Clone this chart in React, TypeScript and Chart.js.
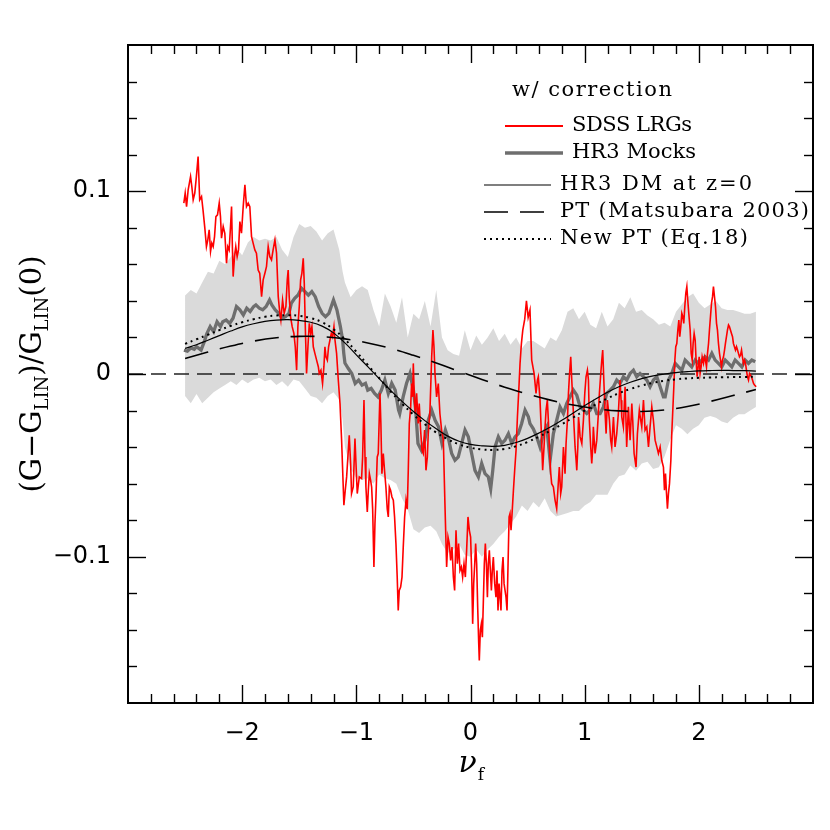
import React, { useEffect, useRef } from "react";
import { Chart, registerables } from "chart.js";

Chart.register(...registerables);

// ---------- axes ----------
const X_MIN = -3;
const X_MAX = 3;
const Y_MIN = -0.18;
const Y_MAX = 0.18;
const xMajorTicks = [-2, -1, 0, 1, 2];
const xTickLabels = ["\u22122", "\u22121", "0", "1", "2"];
const yMajorTicks = [-0.1, 0, 0.1];
const yTickLabels = ["\u22120.1", "0", "0.1"];

// ---------- HR3 mocks 1-sigma band ----------
const bandNu = [-2.5,-2.45,-2.4,-2.35,-2.3,-2.25,-2.2,-2.15,-2.1,-2.05,-2,-1.95,-1.9,-1.85,-1.8,-1.75,-1.7,-1.65,-1.6,-1.55,-1.5,-1.45,-1.4,-1.35,-1.3,-1.25,-1.2,-1.15,-1.12,-1.1,-1.05,-1,-0.95,-0.9,-0.85,-0.8,-0.75,-0.7,-0.65,-0.6,-0.55,-0.5,-0.45,-0.4,-0.35,-0.3,-0.25,-0.2,-0.15,-0.1,-0.05,0,0.05,0.1,0.15,0.2,0.25,0.3,0.35,0.4,0.45,0.5,0.55,0.6,0.65,0.7,0.75,0.8,0.85,0.9,0.95,1,1.05,1.1,1.15,1.2,1.25,1.3,1.35,1.4,1.45,1.5,1.55,1.6,1.65,1.7,1.75,1.8,1.85,1.9,1.95,2,2.05,2.1,2.15,2.2,2.25,2.3,2.35,2.4,2.45,2.5];
const bandHi = [0.043,0.046,0.044,0.05,0.056,0.055,0.062,0.06,0.064,0.069,0.065,0.072,0.075,0.073,0.074,0.073,0.075,0.068,0.064,0.075,0.082,0.08,0.081,0.078,0.073,0.077,0.079,0.068,0.056,0.05,0.042,0.046,0.048,0.046,0.035,0.026,0.044,0.037,0.028,0.042,0.02,0.033,0.03,0.04,0.026,0.046,0.02,0.013,0.011,0.01,0.024,0.013,0.021,0.016,0.02,0.025,0.018,0.022,0.016,0.02,0.014,0.018,0.018,0.016,0.014,0.02,0.018,0.024,0.034,0.036,0.03,0.034,0.027,0.025,0.034,0.026,0.03,0.039,0.036,0.042,0.034,0.035,0.032,0.03,0.027,0.028,0.026,0.034,0.038,0.042,0.044,0.039,0.036,0.038,0.04,0.036,0.035,0.035,0.034,0.033,0.033,0.034];
const bandLo = [-0.012,-0.016,-0.011,-0.016,-0.013,-0.01,-0.008,-0.006,-0.004,-0.006,-0.003,-0.005,-0.003,-0.002,-0.004,-0.003,-0.006,-0.004,-0.007,-0.003,-0.004,-0.008,-0.012,-0.013,-0.016,-0.012,-0.01,-0.014,-0.025,-0.04,-0.052,-0.057,-0.058,-0.057,-0.06,-0.055,-0.057,-0.058,-0.06,-0.068,-0.074,-0.085,-0.087,-0.084,-0.083,-0.086,-0.093,-0.098,-0.096,-0.093,-0.099,-0.1,-0.096,-0.1,-0.096,-0.093,-0.089,-0.086,-0.082,-0.078,-0.072,-0.075,-0.07,-0.073,-0.068,-0.075,-0.078,-0.077,-0.076,-0.075,-0.075,-0.072,-0.07,-0.066,-0.066,-0.066,-0.06,-0.056,-0.055,-0.05,-0.053,-0.049,-0.048,-0.052,-0.051,-0.045,-0.036,-0.028,-0.03,-0.033,-0.03,-0.028,-0.024,-0.023,-0.024,-0.026,-0.027,-0.024,-0.022,-0.022,-0.02,-0.018];

// ---------- HR3 mocks mean ----------
const mockNu = [-2.51,-2.48,-2.45,-2.42,-2.4,-2.36,-2.33,-2.31,-2.28,-2.25,-2.22,-2.19,-2.17,-2.14,-2.11,-2.08,-2.05,-2.02,-1.99,-1.96,-1.93,-1.9,-1.88,-1.85,-1.82,-1.79,-1.76,-1.74,-1.71,-1.68,-1.65,-1.62,-1.59,-1.57,-1.54,-1.51,-1.48,-1.45,-1.42,-1.39,-1.36,-1.33,-1.3,-1.27,-1.24,-1.21,-1.2,-1.17,-1.14,-1.12,-1.11,-1.1,-1.07,-1.04,-1.01,-0.98,-0.95,-0.92,-0.9,-0.87,-0.84,-0.81,-0.78,-0.75,-0.72,-0.69,-0.66,-0.63,-0.62,-0.59,-0.56,-0.53,-0.5,-0.48,-0.46,-0.43,-0.4,-0.37,-0.34,-0.31,-0.28,-0.25,-0.22,-0.19,-0.165,-0.136,-0.107,-0.077,-0.048,-0.019,0.01,0.039,0.069,0.098,0.127,0.156,0.177,0.195,0.215,0.244,0.273,0.302,0.332,0.361,0.39,0.419,0.448,0.478,0.507,0.521,0.55,0.58,0.609,0.638,0.668,0.697,0.726,0.755,0.784,0.814,0.843,0.872,0.901,0.931,0.96,0.989,1.018,1.047,1.076,1.106,1.135,1.164,1.193,1.223,1.252,1.281,1.31,1.339,1.368,1.398,1.427,1.456,1.485,1.515,1.544,1.573,1.602,1.632,1.661,1.69,1.705,1.734,1.763,1.793,1.822,1.851,1.88,1.909,1.938,1.968,1.997,2.026,2.055,2.085,2.114,2.143,2.172,2.201,2.231,2.26,2.289,2.318,2.347,2.377,2.406,2.435,2.464,2.494];
const mockMean = [0.013,0.0125,0.0142,0.0135,0.015,0.0131,0.018,0.022,0.026,0.0232,0.0286,0.026,0.0286,0.0295,0.0277,0.0305,0.0369,0.0351,0.0323,0.036,0.0342,0.0369,0.0378,0.036,0.0351,0.0369,0.0405,0.0378,0.0351,0.0332,0.0305,0.0314,0.0332,0.0387,0.0414,0.0432,0.0469,0.0451,0.0432,0.0451,0.0423,0.0369,0.0332,0.0314,0.0332,0.0387,0.0405,0.0351,0.026,0.0186,0.0113,0.006,0.003,0.0003,-0.0052,-0.0033,-0.0061,-0.0051,-0.0088,-0.0079,-0.0106,-0.0125,-0.0088,-0.0033,-0.0106,-0.0051,-0.0088,-0.0198,-0.0216,-0.0125,-0.0051,0.0003,-0.0088,-0.0198,-0.038,-0.0417,-0.0362,-0.0253,-0.0198,-0.0253,-0.0289,-0.038,-0.0307,-0.0362,-0.0435,-0.0472,-0.0454,-0.038,-0.0307,-0.0344,-0.0435,-0.0527,-0.0563,-0.049,-0.0545,-0.0563,-0.0627,-0.0527,-0.0399,-0.0344,-0.038,-0.0362,-0.0326,-0.038,-0.0344,-0.0326,-0.0271,-0.0198,-0.0234,-0.0271,-0.03,-0.0344,-0.0399,-0.0326,-0.0289,-0.0472,-0.0326,-0.0253,-0.018,-0.0216,-0.0161,-0.0125,-0.0088,-0.0116,-0.018,-0.0198,-0.0216,-0.0198,-0.0161,-0.0216,-0.0216,-0.018,-0.0106,-0.0088,-0.007,-0.0033,-0.0052,-0.0015,-0.0033,0.0003,0.0021,-0.0015,0.0003,-0.0015,-0.0033,-0.007,-0.0033,-0.0015,-0.007,-0.0125,-0.0125,-0.0033,0.0003,0.0058,0.0039,0.0021,0.0076,0.0058,0.0039,0.0076,0.0058,0.0076,0.0094,0.0076,0.0113,0.0076,0.0058,0.0039,0.0076,0.0058,0.0039,0.0076,0.0058,0.0039,0.0076,0.0058,0.0076,0.0067];

// ---------- SDSS LRGs ----------
const sdssNu = [-2.511,-2.499,-2.487,-2.473,-2.452,-2.441,-2.429,-2.415,-2.401,-2.386,-2.372,-2.356,-2.343,-2.327,-2.313,-2.301,-2.289,-2.277,-2.266,-2.254,-2.242,-2.23,-2.216,-2.201,-2.19,-2.181,-2.166,-2.152,-2.137,-2.126,-2.114,-2.102,-2.093,-2.085,-2.079,-2.067,-2.056,-2.044,-2.032,-2.02,-2.006,-1.991,-1.976,-1.962,-1.947,-1.933,-1.918,-1.904,-1.889,-1.875,-1.86,-1.846,-1.83,-1.816,-1.801,-1.787,-1.772,-1.758,-1.743,-1.729,-1.713,-1.699,-1.684,-1.67,-1.661,-1.646,-1.632,-1.617,-1.605,-1.597,-1.588,-1.576,-1.562,-1.547,-1.535,-1.523,-1.512,-1.5,-1.488,-1.477,-1.465,-1.456,-1.447,-1.436,-1.424,-1.412,-1.4,-1.389,-1.377,-1.363,-1.348,-1.333,-1.325,-1.31,-1.296,-1.284,-1.275,-1.266,-1.254,-1.243,-1.231,-1.219,-1.208,-1.196,-1.187,-1.173,-1.158,-1.143,-1.129,-1.109,-1.097,-1.085,-1.074,-1.062,-1.05,-1.042,-1.027,-1.012,-1.003,-0.992,-0.974,-0.954,-0.945,-0.933,-0.924,-0.916,-0.904,-0.895,-0.886,-0.875,-0.866,-0.857,-0.846,-0.837,-0.828,-0.817,-0.808,-0.793,-0.785,-0.776,-0.764,-0.753,-0.741,-0.729,-0.72,-0.711,-0.7,-0.688,-0.676,-0.665,-0.653,-0.642,-0.633,-0.624,-0.612,-0.6,-0.589,-0.577,-0.565,-0.554,-0.545,-0.536,-0.524,-0.516,-0.507,-0.501,-0.492,-0.484,-0.472,-0.458,-0.449,-0.437,-0.425,-0.414,-0.402,-0.39,-0.378,-0.37,-0.355,-0.34,-0.329,-0.32,-0.311,-0.297,-0.282,-0.268,-0.253,-0.238,-0.224,-0.209,-0.197,-0.186,-0.174,-0.162,-0.15,-0.139,-0.127,-0.115,-0.104,-0.092,-0.08,-0.069,-0.057,-0.045,-0.034,-0.022,-0.01,0.001,0.01,0.019,0.028,0.037,0.045,0.054,0.063,0.072,0.077,0.086,0.095,0.104,0.112,0.121,0.13,0.139,0.148,0.156,0.165,0.174,0.183,0.191,0.2,0.212,0.223,0.232,0.241,0.25,0.259,0.267,0.276,0.285,0.294,0.302,0.311,0.32,0.329,0.338,0.346,0.355,0.364,0.376,0.387,0.399,0.411,0.423,0.434,0.446,0.458,0.475,0.49,0.505,0.521,0.536,0.557,0.574,0.586,0.594,0.609,0.621,0.632,0.644,0.653,0.662,0.673,0.682,0.691,0.703,0.711,0.726,0.741,0.755,0.767,0.778,0.79,0.799,0.814,0.828,0.837,0.849,0.858,0.866,0.878,0.887,0.896,0.907,0.916,0.925,0.931,0.94,0.946,0.954,0.96,0.975,0.989,1.001,1.012,1.024,1.033,1.041,1.053,1.062,1.071,1.076,1.091,1.106,1.12,1.129,1.141,1.15,1.158,1.17,1.179,1.188,1.199,1.208,1.217,1.228,1.237,1.252,1.266,1.281,1.295,1.31,1.319,1.325,1.339,1.354,1.368,1.383,1.398,1.413,1.421,1.433,1.45,1.462,1.479,1.491,1.5,1.515,1.529,1.544,1.559,1.573,1.588,1.602,1.617,1.632,1.646,1.661,1.675,1.69,1.699,1.708,1.717,1.725,1.734,1.743,1.755,1.763,1.772,1.781,1.79,1.798,1.807,1.816,1.825,1.833,1.842,1.851,1.86,1.868,1.877,1.886,1.895,1.903,1.912,1.924,1.933,1.942,1.95,1.959,1.968,1.976,1.985,1.994,2.003,2.011,2.02,2.029,2.041,2.05,2.058,2.067,2.076,2.085,2.093,2.102,2.111,2.12,2.128,2.137,2.146,2.155,2.163,2.172,2.181,2.19,2.198,2.207,2.216,2.225,2.233,2.242,2.251,2.26,2.268,2.277,2.286,2.295,2.303,2.312,2.321,2.33,2.339,2.347,2.356,2.365,2.374,2.382,2.391,2.4,2.409,2.417,2.426,2.435,2.444,2.453,2.461,2.47,2.479,2.488,2.502];
const sdssVal = [0.0935,0.099,0.0916,0.1008,0.108,0.1026,0.0953,0.099,0.108,0.119,0.0953,0.0971,0.0898,0.0798,0.0697,0.0734,0.0789,0.067,0.0716,0.0697,0.0752,0.0861,0.0871,0.0935,0.0861,0.0743,0.0807,0.077,0.0606,0.0697,0.0679,0.0807,0.0916,0.0679,0.0533,0.0642,0.0697,0.0642,0.0679,0.0834,0.077,0.0916,0.1035,0.0916,0.0935,0.0916,0.0752,0.0716,0.0679,0.0661,0.0569,0.0551,0.0423,0.0515,0.0551,0.0587,0.0697,0.0642,0.0624,0.0679,0.0734,0.0661,0.0423,0.0332,0.0295,0.0405,0.0332,0.0368,0.0515,0.0569,0.0423,0.0313,0.0259,0.0222,0.0149,0.0021,0.0259,0.0368,0.0515,0.0551,0.0633,0.0496,0.0259,0.0003,0.0149,0.0277,0.0222,0.0259,0.0149,0.0113,0.0076,0.004,0.0003,0.0021,-0.0052,0.004,0.0149,0.0094,0.0076,0.0149,0.0186,0.0222,0.0204,0.0259,0.0186,0.0113,-0.0033,-0.0161,-0.0362,-0.0718,-0.0636,-0.0563,-0.0454,-0.0335,-0.049,-0.0654,-0.0618,-0.0353,-0.049,-0.0654,-0.0563,-0.0572,-0.0454,-0.0143,-0.0454,-0.0618,-0.0755,-0.0636,-0.0545,-0.0581,-0.0618,-0.074,-0.1056,-0.0819,-0.0673,-0.0454,-0.0435,-0.0106,-0.0271,-0.0545,-0.0435,-0.0527,-0.0618,-0.074,-0.0782,-0.0618,-0.0636,-0.0673,-0.0691,-0.0782,-0.0928,-0.1111,-0.1294,-0.1184,-0.1166,-0.1111,-0.0947,-0.0782,-0.0691,-0.074,-0.0527,-0.0271,-0.018,-0.0052,-0.0125,0.0058,-0.0125,-0.0216,-0.0106,-0.0271,-0.0161,-0.0307,-0.0417,-0.0435,-0.0307,-0.0527,-0.0454,-0.0326,-0.0198,0.0094,0.024,0.0149,0.0003,-0.0125,-0.0052,-0.0216,-0.0307,-0.0362,-0.0709,-0.1056,-0.0892,-0.0928,-0.102,-0.0947,-0.1111,-0.1184,-0.0855,-0.1038,-0.0928,-0.1075,-0.1056,-0.1111,-0.1038,-0.1111,-0.0965,-0.0782,-0.0855,-0.0892,-0.1075,-0.1367,-0.1147,-0.1038,-0.0928,-0.1038,-0.1276,-0.1475,-0.1568,-0.1403,-0.1367,-0.144,-0.1257,-0.1038,-0.0928,-0.1038,-0.1221,-0.1038,-0.0965,-0.1075,-0.1184,-0.1075,-0.1002,-0.1147,-0.1221,-0.1075,-0.1294,-0.1147,-0.1221,-0.1294,-0.1075,-0.1002,-0.1147,-0.1147,-0.1221,-0.1294,-0.1038,-0.0782,-0.0764,-0.0855,-0.0764,-0.0636,-0.0527,-0.0417,-0.0234,-0.0088,0.0058,0.0168,0.024,0.03,0.04,0.031,0.035,0.0076,0.0003,-0.0106,-0.0033,-0.0015,-0.0143,-0.0326,-0.0527,-0.0399,-0.0289,-0.0198,-0.0143,-0.0253,-0.0399,-0.0545,-0.06,-0.0618,-0.0691,-0.0737,-0.0618,-0.0509,-0.0654,-0.0618,-0.0399,-0.0545,-0.038,-0.0253,-0.0106,-0.0015,0.0094,-0.0033,-0.0143,-0.0289,-0.0399,-0.0472,-0.0527,-0.0399,-0.0235,-0.0289,-0.0344,-0.038,-0.0253,-0.0106,-0.0015,0.0021,-0.0033,-0.0253,-0.0399,-0.049,-0.0399,-0.0289,-0.0435,-0.0362,-0.0216,-0.0106,0.0003,0.0076,0.0131,-0.007,-0.0216,-0.0326,-0.0143,-0.0198,-0.0253,-0.0362,-0.0399,-0.0235,-0.0399,-0.0326,-0.0216,-0.0033,-0.0143,-0.0235,-0.0289,-0.007,-0.0399,-0.018,-0.0362,-0.0161,-0.0253,-0.0435,-0.0509,-0.0326,-0.0198,-0.0253,-0.0289,-0.0143,-0.0307,-0.0289,-0.0399,-0.0289,-0.018,-0.0253,-0.0362,-0.0399,-0.0435,-0.0399,-0.0472,-0.0509,-0.0636,-0.0545,-0.0654,-0.0737,-0.0654,-0.06,-0.0472,-0.0326,-0.0198,-0.007,0.0076,0.0149,0.0167,0.0241,0.0295,0.0204,0.0259,0.0332,0.0314,0.0277,0.0368,0.0442,0.0478,0.0405,0.0332,0.0241,0.0113,0.0076,0.0167,0.0222,0.0186,0.0076,-0.0015,0.0039,0.0094,0.0003,0.0039,0.0094,0.0058,0.0094,0.0076,0.0039,0.0113,0.0167,0.0241,0.0314,0.0387,0.0423,0.0478,0.0423,0.0368,0.0277,0.0241,0.0167,0.0113,0.0076,0.0039,0.0076,0.0094,0.0131,0.0167,0.0204,0.0241,0.0268,0.0259,0.0241,0.0222,0.0204,0.0167,0.0149,0.0131,0.0149,0.0131,0.0113,0.0094,0.0103,0.0131,0.0094,0.0058,0.0076,0.0058,0.0021,-0.0015,-0.0033,0.0003,-0.0006,-0.0015,-0.0033,-0.0052,-0.006,-0.007];

// ---------- HR3 DM at z=0 and New PT (Eq.18) ----------
const curveNu = [-2.5,-2.4,-2.3,-2.2,-2.1,-2,-1.9,-1.8,-1.7,-1.6,-1.5,-1.4,-1.3,-1.2,-1.1,-1,-0.9,-0.8,-0.7,-0.6,-0.5,-0.4,-0.3,-0.2,-0.1,0,0.1,0.2,0.3,0.4,0.5,0.6,0.7,0.8,0.9,1,1.1,1.2,1.3,1.4,1.5,1.6,1.7,1.8,1.9,2,2.1,2.2,2.3,2.4,2.5];
const dmVal = [0.014,0.016,0.0185,0.021,0.0235,0.0258,0.0275,0.0288,0.0295,0.0297,0.0293,0.0283,0.0262,0.0225,0.017,0.0105,0.004,-0.0025,-0.009,-0.015,-0.0205,-0.0255,-0.03,-0.034,-0.0368,-0.0385,-0.0393,-0.0396,-0.039,-0.0375,-0.0352,-0.0323,-0.029,-0.0253,-0.0213,-0.0173,-0.0135,-0.01,-0.007,-0.0045,-0.0025,-0.001,0,0.0008,0.0013,0.0017,0.0019,0.002,0.0019,0.0018,0.0016];
const newPtVal = [0.0165,0.019,0.0215,0.024,0.0263,0.0283,0.03,0.0313,0.032,0.0322,0.0318,0.0306,0.0283,0.0245,0.019,0.0122,0.005,-0.0022,-0.0095,-0.0162,-0.0222,-0.0275,-0.032,-0.0357,-0.0385,-0.0403,-0.0413,-0.0415,-0.041,-0.0395,-0.0372,-0.0343,-0.031,-0.0275,-0.0238,-0.02,-0.0165,-0.0133,-0.0105,-0.0082,-0.0063,-0.0048,-0.0037,-0.0029,-0.0024,-0.0021,-0.0019,-0.0018,-0.0017,-0.0016,-0.0015];

// ---------- PT (Matsubara 2003) ----------
const ptNu = [-2.5,-2.3,-2.1,-1.9,-1.7,-1.5,-1.3,-1.1,-0.9,-0.7,-0.5,-0.3,-0.1,0.1,0.3,0.5,0.7,0.9,1.1,1.3,1.5,1.7,1.9,2.1,2.3,2.5];
const ptVal = [0.0085,0.012,0.0153,0.018,0.0198,0.0206,0.0204,0.0192,0.017,0.014,0.0102,0.006,0.0015,-0.003,-0.0072,-0.011,-0.0143,-0.017,-0.019,-0.0202,-0.0205,-0.0197,-0.0178,-0.015,-0.0118,-0.0085];

// ---------- zero reference ----------
const zeroNu = [X_MIN, X_MAX];
const zeroVal = [0, 0];

// ---------- legend ----------
const legendTitle = "w/ correction";
const legendLabels = ["SDSS LRGs", "HR3 Mocks", "HR3 DM at z=0", "PT (Matsubara 2003)", "New PT (Eq.18)"];

const pts = (xs: number[], ys: number[]) => xs.map((x, i) => ({ x, y: ys[i] }));

const RED = "#ff0000";
const GREY = "#6e6e6e";
const BAND = "#dadada";
const SERIF = '"DejaVu Serif", serif';
const SANS = '"DejaVu Sans", sans-serif';

const styles = [
  { color: RED, width: 2, dash: [] as number[] },
  { color: GREY, width: 3.5, dash: [] as number[] },
  { color: "#000", width: 1.2, dash: [] as number[] },
  { color: "#000", width: 1.6, dash: [24, 12] },
  { color: "#000", width: 2, dash: [2, 4] },
];

// draw text spread so that it ends at a given x
function spreadText(ctx: any, text: string, x: number, y: number, endX: number) {
  ctx.letterSpacing = "0px";
  const w = ctx.measureText(text).width;
  const n = text.length;
  const ls = n > 1 ? (endX - x - w) / (n - 1) : 0;
  if ("letterSpacing" in ctx) {
    ctx.letterSpacing = `${ls}px`;
    ctx.fillText(text, x, y);
    ctx.letterSpacing = "0px";
  } else {
    ctx.save();
    ctx.translate(x, y);
    ctx.scale((endX - x) / w, 1);
    ctx.fillText(text, 0, 0);
    ctx.restore();
  }
}

const decor = {
  id: "decor",
  afterDraw(chart: any) {
    const { ctx, chartArea: a, scales } = chart;
    const xs = scales.x;
    const ys = scales.y;
    ctx.save();
    const seg = (x1: number, y1: number, x2: number, y2: number) => {
      ctx.beginPath();
      ctx.moveTo(x1, y1);
      ctx.lineTo(x2, y2);
      ctx.stroke();
    };
    ctx.strokeStyle = "#000";
    ctx.setLineDash([]);
    ctx.lineWidth = 1.4;
    for (let i = -14; i <= 14; i++) {
      const px = Math.round(xs.getPixelForValue(i * 0.2)) + 0.5;
      const len = i % 5 === 0 ? 18 : 9;
      seg(px, a.bottom, px, a.bottom - len);
      seg(px, a.top, px, a.top + len);
    }
    for (let i = -8; i <= 8; i++) {
      const py = Math.round(ys.getPixelForValue(i * 0.02)) + 0.5;
      const len = i % 5 === 0 ? 18 : 9;
      seg(a.left, py, a.left + len, py);
      seg(a.right, py, a.right - len, py);
    }
    ctx.lineWidth = 2;
    ctx.strokeRect(a.left, a.top, a.right - a.left, a.bottom - a.top);

    // tick labels
    ctx.fillStyle = "#000";
    ctx.font = `24px ${SANS}`;
    ctx.textAlign = "center";
    ctx.textBaseline = "middle";
    xMajorTicks.forEach((v, i) => ctx.fillText(xTickLabels[i], xs.getPixelForValue(v), a.bottom + 31));
    ctx.textAlign = "right";
    yMajorTicks.forEach((v, i) => ctx.fillText(yTickLabels[i], a.left - 17, ys.getPixelForValue(v)));

    // x title: nu_f
    const cx = (a.left + a.right) / 2;
    ctx.textBaseline = "alphabetic";
    ctx.textAlign = "left";
    ctx.font = `italic 30px ${SERIF}`;
    const wNu = ctx.measureText("\u03bd").width;
    ctx.fillText("\u03bd", cx - 12, a.bottom + 69);
    ctx.font = `17px ${SERIF}`;
    ctx.fillText("f", cx - 12 + wNu + 1, a.bottom + 77);

    // y title
    const parts = [
      { t: "(G\u2212G", s: false },
      { t: "LIN", s: true },
      { t: ")/G", s: false },
      { t: "LIN", s: true },
      { t: "(0)", s: false },
    ];
    const big = `29px ${SERIF}`;
    const small = `18px ${SERIF}`;
    let total = 0;
    parts.forEach((p) => {
      ctx.font = p.s ? small : big;
      total += ctx.measureText(p.t).width;
    });
    ctx.translate(31, (a.top + a.bottom) / 2);
    ctx.rotate(-Math.PI / 2);
    let pos = -total / 2;
    parts.forEach((p) => {
      ctx.font = p.s ? small : big;
      ctx.fillText(p.t, pos, p.s ? 17 : 10);
      pos += ctx.measureText(p.t).width;
    });
    ctx.restore();

    // legend
    ctx.save();
    ctx.fillStyle = "#000";
    ctx.font = `21px ${SERIF}`;
    ctx.textBaseline = "middle";
    ctx.textAlign = "left";
    spreadText(ctx, legendTitle, 512, 91, 672);
    const rows = [
      { y: 126, x1: 505, x2: 563, tx: 572, end: 692 },
      { y: 153, x1: 505, x2: 563, tx: 572, end: 696 },
      { y: 185, x1: 484, x2: 551, tx: 560, end: 752 },
      { y: 212, x1: 484, x2: 551, tx: 560, end: 809 },
      { y: 239, x1: 484, x2: 551, tx: 560, end: 748 },
    ];
    rows.forEach((r, i) => {
      const st = styles[i];
      ctx.strokeStyle = st.color;
      ctx.lineWidth = st.width;
      ctx.setLineDash(st.dash);
      seg(r.x1, r.y, r.x2, r.y);
      ctx.setLineDash([]);
      spreadText(ctx, legendLabels[i], r.tx, r.y, r.end);
    });
    ctx.restore();
  },
};

export default function App() {
  const ref = useRef<HTMLCanvasElement | null>(null);
  useEffect(() => {
    if (!ref.current) return;
    const chart = new Chart(ref.current, {
      type: "line",
      data: {
        datasets: [
          { label: "band hi", data: pts(bandNu, bandHi), borderWidth: 0, borderColor: "rgba(0,0,0,0)", backgroundColor: BAND, fill: "+1", order: 10 },
          { label: "band lo", data: pts(bandNu, bandLo), borderWidth: 0, borderColor: "rgba(0,0,0,0)", fill: false, order: 10 },
          { label: "zero", data: pts(zeroNu, zeroVal), borderColor: "#222", borderWidth: 1.3, borderDash: [15, 8], fill: false, order: 9 },
          { label: legendLabels[1], data: pts(mockNu, mockMean), borderColor: GREY, borderWidth: 3.3, fill: false, order: 8 },
          { label: legendLabels[0], data: pts(sdssNu, sdssVal), borderColor: RED, borderWidth: 1.6, fill: false, order: 7 },
          { label: legendLabels[3], data: pts(ptNu, ptVal), borderColor: "#000", borderWidth: 1.6, borderDash: [24, 12], fill: false, tension: 0.4, order: 6 },
          { label: legendLabels[4], data: pts(curveNu, newPtVal), borderColor: "#000", borderWidth: 2, borderDash: [2, 4], fill: false, tension: 0.4, order: 5 },
          { label: legendLabels[2], data: pts(curveNu, dmVal), borderColor: "#000", borderWidth: 1.2, fill: false, tension: 0.4, order: 4 },
        ],
      },
      options: {
        responsive: false,
        animation: false,
        events: [],
        layout: { padding: { left: 128, right: 17, top: 45, bottom: 127 } },
        scales: {
          x: { type: "linear", min: X_MIN, max: X_MAX, display: false },
          y: { type: "linear", min: Y_MIN, max: Y_MAX, display: false },
        },
        elements: { point: { radius: 0 }, line: { tension: 0 } },
        plugins: { legend: { display: false }, tooltip: { enabled: false } },
      },
      plugins: [decor],
    });
    return () => chart.destroy();
  }, []);
  return (
    <div style={{ position: "absolute", left: 0, top: 0, width: 830, height: 830, background: "#fff" }}>
      <canvas ref={ref} width={830} height={830} style={{ width: 830, height: 830, display: "block" }} />
    </div>
  );
}
